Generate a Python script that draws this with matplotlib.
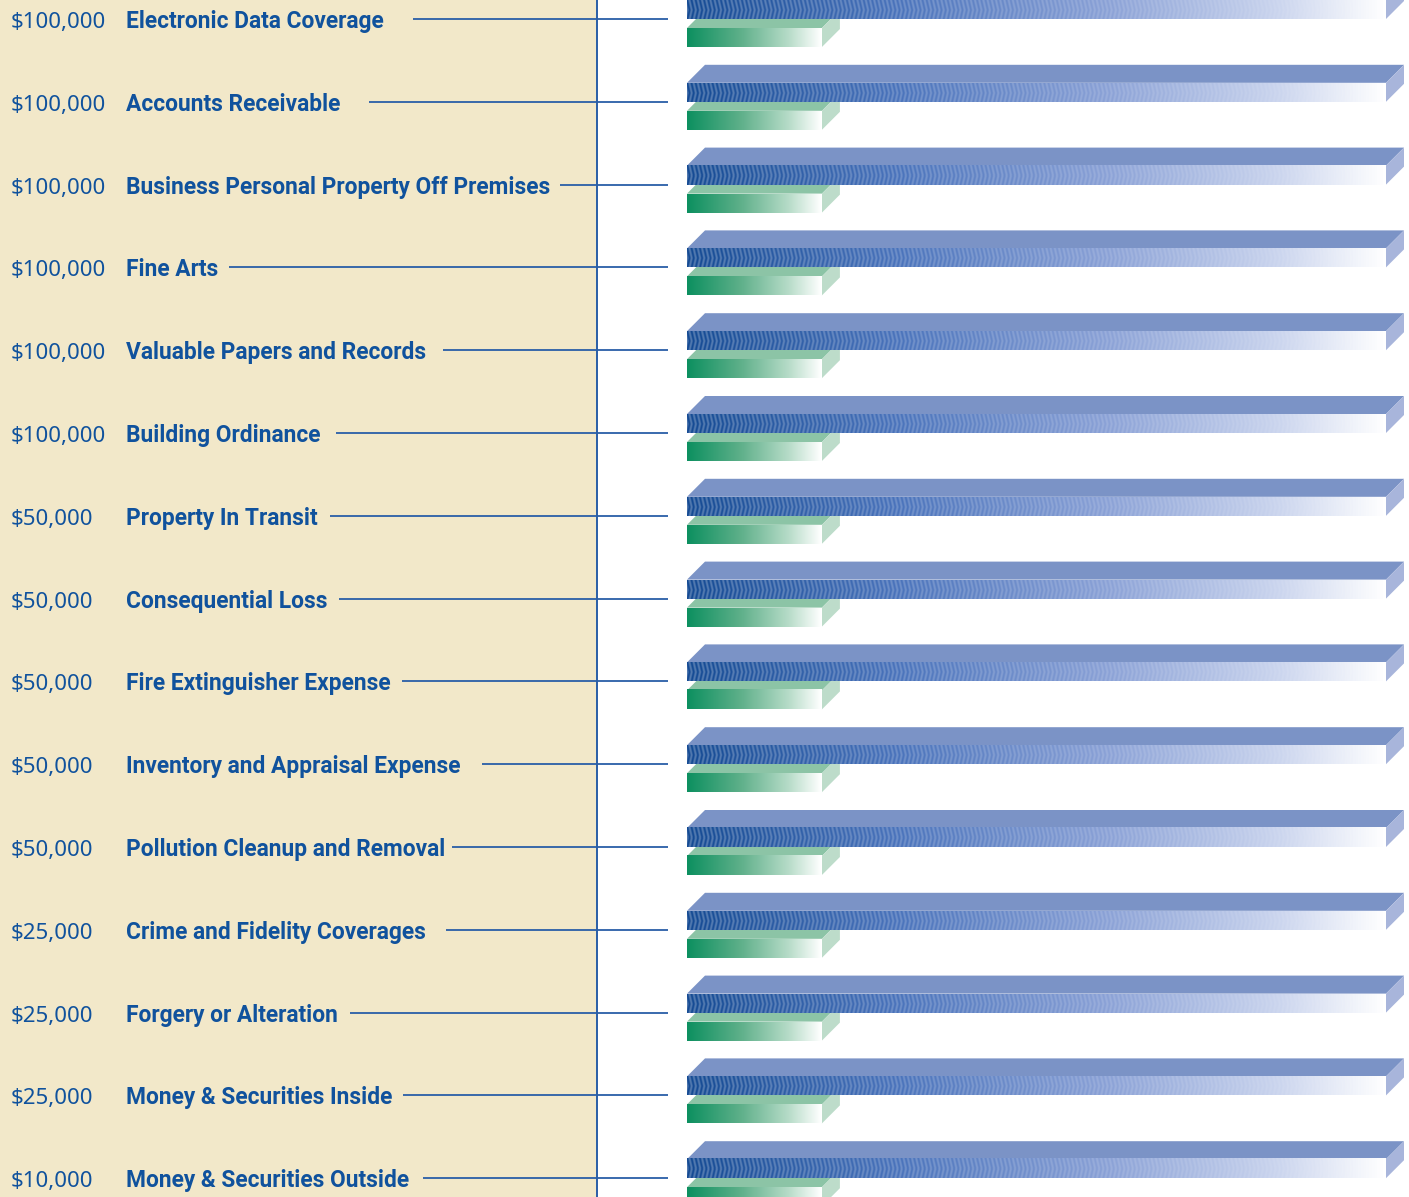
import numpy as np
import matplotlib
matplotlib.use("Agg")
import matplotlib.pyplot as plt
from matplotlib.patches import Polygon
from matplotlib.colors import LinearSegmentedColormap
from matplotlib import font_manager

# ---------------- data ----------------
amounts = ["$100,000", "$100,000", "$100,000", "$100,000", "$100,000", "$100,000",
           "$50,000", "$50,000", "$50,000", "$50,000", "$50,000",
           "$25,000", "$25,000", "$25,000", "$10,000"]
categories = ["Electronic Data Coverage", "Accounts Receivable",
              "Business Personal Property Off Premises", "Fine Arts",
              "Valuable Papers and Records", "Building Ordinance",
              "Property In Transit", "Consequential Loss",
              "Fire Extinguisher Expense", "Inventory and Appraisal Expense",
              "Pollution Cleanup and Removal", "Crime and Fidelity Coverages",
              "Forgery or Alteration", "Money & Securities Inside",
              "Money & Securities Outside"]
blue_values = [100, 100, 100, 100, 100, 100, 100, 100, 100, 100, 100, 100, 100, 100, 100]
green_values = [19.3, 19.3, 19.3, 19.3, 19.3, 19.3, 19.3, 19.3, 19.3, 19.3, 19.3, 19.3, 19.3, 19.3, 19.3]

# ---------------- style ----------------
leader_gaps = [29, 29, 10, 11, 17, 15, 12, 11, 11, 21, 7, 20, 12, 11, 14]
TEXT_C = "#10529d"
LINE_C = "#2a5ea7"
BEIGE = "#f2e8c9"

avail = {f.name for f in font_manager.fontManager.ttflist}
name_family = "Roboto" if "Roboto" in avail else "DejaVu Sans"
num_font = "Noto Sans" if "Noto Sans" in avail else "DejaVu Sans"

W, H = 1409, 1197
fig = plt.figure(figsize=(W / 100, H / 100), dpi=100)
ax = fig.add_axes([0, 0, 1, 1])
ax.set_axis_off()

X0PX, XSC = 687.0, 6.99      # value 0 at px 687, 1 unit = 6.99 px
Y0PX, YSC = 19.0, 82.8       # row 0 at px 19, 1 row = 82.8 px
xl = (-X0PX / XSC, (W - X0PX) / XSC)
yl = ((H - Y0PX) / YSC, -Y0PX / YSC)


def px_x(p):
    return (p - X0PX) / XSC


def dx(p):
    return p / XSC


def dy(p):
    return p / YSC


# fit name font size so the first label is ~259 px wide, like the reference
probe = fig.text(0, 0, categories[0], family=name_family, weight="bold", fontsize=19)
fig.canvas.draw()
wprobe = probe.get_window_extent(fig.canvas.get_renderer()).width
probe.remove()
name_size = 19 * 259.0 / wprobe

# beige panel + vertical divider
ax.axvspan(xl[0], px_x(597), color=BEIGE, zorder=0, lw=0)
ax.axvline(px_x(597.5), color=LINE_C, lw=1.4, zorder=1)

blue_cmap = LinearSegmentedColormap.from_list(
    "b", [(0, "#144a93"), (0.3, "#4a73bb"), (0.6, "#8aa1d6"), (0.85, "#cbd5ee"), (1, "#ffffff")])
green_cmap = LinearSegmentedColormap.from_list(
    "g", [(0, "#0d9060"), (0.4, "#5fb08a"), (0.75, "#b5dbc7"), (1, "#ffffff")])


def front_image(cmap, npx, hpx, striped):
    t = np.linspace(0, 1, npx)
    base = cmap(t)[:, :3]
    img = np.repeat(base[None, :, :], hpx, axis=0)
    if striped:
        r = np.arange(hpx)[:, None]
        c = np.arange(npx)[None, :]
        tri = np.abs(((r / 9.5) % 2) - 1)
        s = 0.5 + 0.5 * np.cos(2 * np.pi * (c + 2.2 * tri) / 4.2)
        amp = (0.26 * (1 - t) ** 0.7)[None, :]
        m = (s * amp)[:, :, None]
        img = img * (1 - m) + m * 1.0
    return np.clip(img, 0, 1)


D = 18  # depth px
FH = 19  # front face height px

for i in range(len(categories)):
    L = i
    # ---- green bar ----
    gv = green_values[i]
    gtop = L + dy(9)
    gbot = L + dy(9 + FH)
    ax.add_patch(Polygon([(0, gtop), (dx(D), gtop - dy(D)), (gv + dx(D), gtop - dy(D)), (gv, gtop)],
                         closed=True, fc="#8cc4a6", ec="none", zorder=2))
    ax.add_patch(Polygon([(gv, gtop), (gv + dx(D), gtop - dy(D)), (gv + dx(D), gbot - dy(D)), (gv, gbot)],
                         closed=True, fc="#bddcca", ec="none", zorder=2))
    npx = int(round(gv * XSC))
    ax.imshow(front_image(green_cmap, npx, FH, False), extent=(0, gv, gbot, gtop),
              aspect="auto", interpolation="bilinear", zorder=3)

    # ---- blue bar ----
    bv = blue_values[i]
    btop = L - dy(FH)
    bbot = L
    ax.add_patch(Polygon([(0, btop), (dx(D), btop - dy(D)), (bv + dx(D), btop - dy(D)), (bv, btop)],
                         closed=True, fc="#7b93c6", ec="none", zorder=4))
    ax.add_patch(Polygon([(bv, btop), (bv + dx(D), btop - dy(D)), (bv + dx(D), bbot - dy(D)), (bv, bbot)],
                         closed=True, fc="#a8b5db", ec="none", zorder=4))
    npx = int(round(bv * XSC))
    ax.imshow(front_image(blue_cmap, npx, FH, True), extent=(0, bv, bbot, btop),
              aspect="auto", interpolation="nearest", zorder=5)

    # ---- texts ----
    ax.text(px_x(11), L + dy(9), amounts[i], family=num_font, fontsize=16,
            color=TEXT_C, va="baseline", ha="left", zorder=6)
    ax.text(px_x(126), L + dy(9), categories[i], family=name_family, weight="bold",
            fontsize=name_size, color=TEXT_C, va="baseline", ha="left", zorder=6)

ax.set_xlim(*xl)
ax.set_ylim(*yl)

# leader lines starting after each name text
fig.canvas.draw()
renderer = fig.canvas.get_renderer()
inv = ax.transData.inverted()
name_texts = [t for t in ax.texts if t.get_text() in categories]
for i, t in enumerate(name_texts):
    bb = t.get_window_extent(renderer)
    xend = inv.transform((bb.x1, 0))[0]
    ax.plot([xend + dx(leader_gaps[i]), px_x(668)], [i, i], color=LINE_C, lw=1.3,
            zorder=6, solid_capstyle="butt")

ax.set_xlim(*xl)
ax.set_ylim(*yl)
fig.savefig("out.png", dpi=100, facecolor="white")
